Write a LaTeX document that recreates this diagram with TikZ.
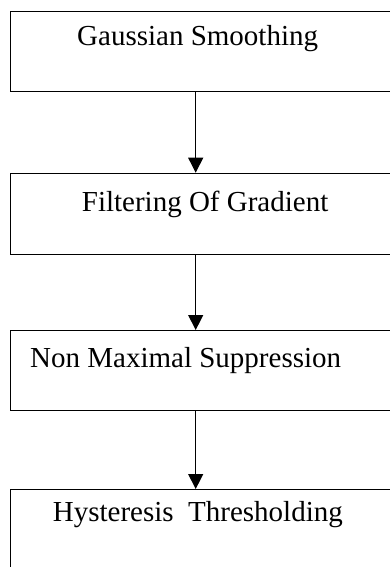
\documentclass[tikz,border=0pt]{standalone}
\usepackage{fontspec}
\setmainfont{Liberation Serif}
\usetikzlibrary{arrows.meta}
\begin{document}
\begin{tikzpicture}[x=1pt,y=-1pt,
  box/.style={draw,line width=1.1pt,rectangle,anchor=north west,inner sep=0pt,minimum width=395pt},
  lbl/.style={anchor=base west,inner sep=0pt,font=\fontsize{29}{34}\selectfont},
  arr/.style={line width=1.1pt,-{Triangle[width=15pt,length=15pt]}}]
\useasboundingbox (0,0) rectangle (390,567);
\node[box,minimum height=79.7pt] (b1) at (9.5,11) {};
\node[box,minimum height=81.3pt] (b2) at (9.5,172.7) {};
\node[box,minimum height=80pt] (b3) at (9.8,330) {};
\node[box,minimum height=100pt] (b4) at (9.8,489) {};
\node[lbl] (t1) at (77,45.5) {Gaussian Smoothing};
\node[lbl] (t2) at (81.7,211.3) {Filtering Of Gradient};
\node[lbl] (t3) at (30,367.3) {Non Maximal Suppression};
\node[lbl] (t4) at (52.7,521.5) {Hysteresis\ \ Thresholding};
\coordinate (ax) at (195.7,0);
\draw[arr] (b1.south west -| ax) -- (b2.north west -| ax);
\draw[arr] (b2.south west -| ax) -- (b3.north west -| ax);
\draw[arr] (b3.south west -| ax) -- (b4.north west -| ax);
\end{tikzpicture}
\end{document}
